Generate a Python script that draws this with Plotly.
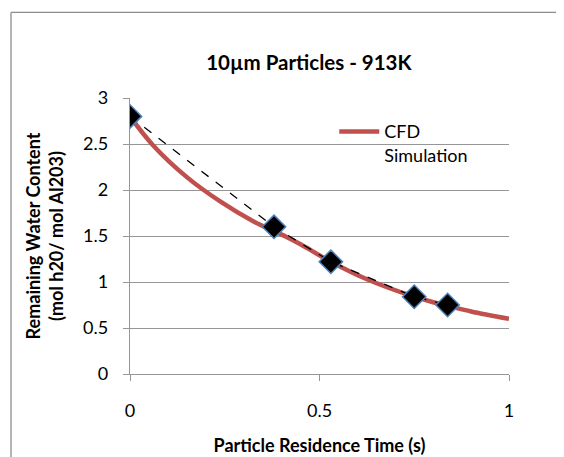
import plotly.graph_objects as go

# Experimental data (markers + dashed line)
exp_t = [0.0, 0.38, 0.53, 0.75, 0.838]
exp_w = [2.80, 1.60, 1.22, 0.84, 0.75]

# CFD simulation curve
cfd_t = [0.0, 0.06, 0.15, 0.24, 0.325, 0.413, 0.45, 0.53, 0.625, 0.75, 0.80, 0.84, 0.90, 1.0]
cfd_w = [2.80, 2.49, 2.14, 1.87, 1.66, 1.49, 1.41, 1.22, 1.03, 0.84, 0.78, 0.74, 0.68, 0.60]

x_ticks = [0, 0.5, 1]
y_ticks = [0, 0.5, 1, 1.5, 2, 2.5, 3]

FONT = "Lato"
GRID = "#969696"
BORDER = "#8c8c8c"

fig = go.Figure()
fig.add_trace(go.Scatter(
    x=cfd_t, y=cfd_w, mode="lines", name="CFD<br>Simulation",
    line=dict(color="#C0504D", width=4.5, shape="spline"),
))
fig.add_trace(go.Scatter(
    x=exp_t, y=exp_w, mode="lines+markers", showlegend=False,
    line=dict(color="black", width=1.3, dash="dash"),
    marker=dict(symbol="diamond", size=18, color="black",
                line=dict(color="#4F81BD", width=1.5)),
))

fig.update_layout(
    width=564, height=457,
    paper_bgcolor="white", plot_bgcolor="white",
    margin=dict(l=122, r=63, t=90, b=91),
    font=dict(family=FONT, size=18, color="black"),
    title=dict(text="<b>10µm Particles - 913K</b>", x=0.472, xref="paper", xanchor="center",
               y=1 - 55 / 457, yanchor="middle", font=dict(size=20.5, family=FONT)),
    xaxis=dict(range=[0, 1], tickvals=x_ticks, ticktext=["0", "0.5", "1"],
               showgrid=False, zeroline=False, showline=True, linecolor=GRID, linewidth=1.3,
               ticks="outside", ticklen=6, tickcolor=GRID, tickwidth=1.3,
               ticklabelstandoff=14,
               title=dict(text="<b>Particle Residence Time (s)</b>", standoff=19, font=dict(size=18)),
               tickfont=dict(size=18)),
    yaxis=dict(range=[0, 3], tickvals=y_ticks, ticktext=["0", "0.5", "1", "1.5", "2", "2.5", "3"],
               showgrid=True, gridcolor=GRID, gridwidth=1.3, zeroline=False,
               showline=True, linecolor=GRID, linewidth=1.3,
               ticks="outside", ticklen=6, tickcolor=GRID, tickwidth=1.3,
               ticklabelstandoff=11,
               title=dict(text="<b>Remaining Water Content<br>(mol h20/ mol Al203)</b>", standoff=14,
                          font=dict(size=18)),
               tickfont=dict(size=18)),
    legend=dict(x=0.539, y=0.945, xanchor="left", yanchor="top", bgcolor="rgba(0,0,0,0)",
                font=dict(size=18), itemwidth=40, valign="top"),
    shapes=[
        dict(type="line", xref="paper", yref="paper", x0=-0.314, x1=-0.314, y0=-0.4, y1=1.31,
             line=dict(color=BORDER, width=1.3), layer="below"),
        dict(type="line", xref="paper", yref="paper", x0=-0.314, x1=1.4, y0=1.31, y1=1.31,
             line=dict(color=BORDER, width=1.3), layer="below"),
    ],
)

fig.write_html("out.html")
